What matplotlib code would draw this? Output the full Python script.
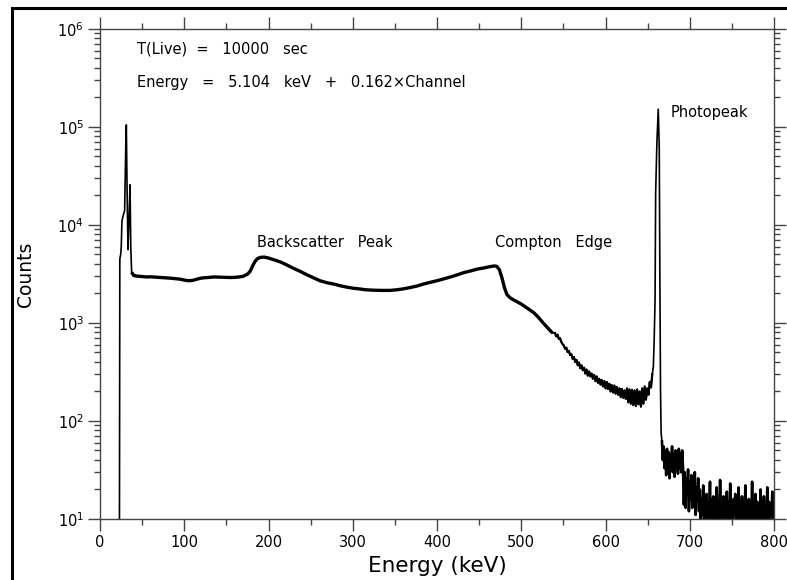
import numpy as np
import matplotlib
matplotlib.use('Agg')
import matplotlib.pyplot as plt
from matplotlib.patches import Rectangle
from matplotlib.ticker import LogLocator, MultipleLocator, NullFormatter

# Low-energy start and Ba X-ray peaks (keV, counts)
xray_energy = [22.9, 23.5, 24.5, 25.2, 26.0, 27.5, 29.2, 30.5, 31.2, 32.2, 33.2, 34.5, 35.6, 36.5]
xray_counts = [1, 4500, 5000, 6000, 11000, 12500, 14000, 60000, 105000, 20000, 5600, 12000, 25700, 6000]

# Smooth continuum: backscatter peak and Compton edge
cont_energy = [37.5, 40, 45, 50, 55, 60, 65, 70, 75, 80, 85, 90, 95, 100, 105, 110, 115, 120,
               125, 130, 135, 140, 145, 150, 155, 160, 165, 170, 175, 178, 181, 184, 187, 191,
               195, 200, 207, 214, 222, 230, 238, 245, 253, 261, 269, 277, 285, 293, 301, 309,
               316, 325, 335, 344, 352, 360, 368, 376, 384, 392, 400, 408, 416, 423, 431, 440,
               448, 456, 463, 468, 471, 474, 477, 480, 483, 487, 492, 500, 507, 515, 520, 526,
               532, 537]
cont_counts = [3300, 3050, 3000, 2980, 2950, 2960, 2940, 2920, 2900, 2880, 2860, 2830, 2800,
               2740, 2700, 2720, 2800, 2870, 2900, 2920, 2950, 2940, 2930, 2920, 2910, 2920,
               2950, 3000, 3150, 3350, 3800, 4250, 4550, 4680, 4700, 4600, 4400, 4200, 3900,
               3600, 3350, 3120, 2900, 2700, 2580, 2500, 2400, 2320, 2260, 2220, 2180, 2160,
               2150, 2150, 2180, 2230, 2300, 2380, 2500, 2600, 2700, 2820, 2950, 3080, 3250,
               3400, 3550, 3650, 3760, 3820, 3780, 3500, 2900, 2300, 1950, 1800, 1700, 1560,
               1420, 1270, 1150, 1000, 880, 790]

# Noisy valley between Compton edge and photopeak, 1.5 keV steps from 540 keV
valley_start, valley_step = 540.0, 1.5
valley_counts = [790, 730, 760, 690, 700, 640, 610, 590, 545, 560, 505, 520, 470, 480, 430,
                 450, 400, 420, 370, 395, 345, 370, 330, 350, 305, 335, 290, 320, 285, 305,
                 270, 295, 255, 285, 245, 270, 235, 262, 225, 255, 215, 250, 212, 240, 200,
                 232, 195, 230, 190, 222, 185, 215, 175, 212, 172, 205, 168, 215, 155, 210,
                 150, 208, 145, 205, 142, 210, 148, 200, 140, 215, 150, 225, 165, 215, 185,
                 250, 220, 300]

# Photopeak (662 keV)
peak_energy = [656.8, 657.8, 658.8, 659.5, 661.0, 662.6, 663.8, 664.5, 665.3, 666.0]
peak_counts = [360, 700, 1700, 21000, 70000, 152000, 60000, 3000, 200, 75]

# High-energy tail, 1 keV steps from 667 keV
tail_start, tail_step = 667.0, 1.0
tail_counts = [62, 40, 55, 33, 50, 28, 52, 35, 48, 26, 45, 38, 55, 30, 46, 27, 50, 36, 44, 29,
               52, 33, 47, 30, 50, 34,
               14, 30, 13, 26, 18, 32, 12, 24, 16, 28, 13, 22, 17, 30, 11, 21, 15, 26, 12, 20,
               9, 16, 11, 22, 9, 15, 10, 18, 9, 14, 11, 24, 8, 16, 10, 17, 9, 14, 8, 21, 10,
               15, 9, 25, 10, 14, 8, 17, 11, 14, 9, 19, 10, 15, 8, 23, 10, 14, 9, 16, 11, 18,
               8, 15, 10, 21, 9, 13, 10, 17, 8, 15, 10, 22, 9, 14, 11, 16, 8, 15, 10, 24, 9,
               13, 10, 18, 8, 15, 11, 14, 9, 20, 10, 15, 8, 17, 10, 13, 9, 21, 10, 15, 8, 14,
               11, 19, 9, 15]

annotations = [
    ('T(Live)  =   10000   sec', 0.055, 0.959),
    ('Energy   =   5.104   keV   +   0.162\u00d7Channel', 0.055, 0.891),
    ('Backscatter   Peak', 0.233, 0.565),
    ('Compton   Edge', 0.586, 0.565),
    ('Photopeak', 0.846, 0.829),
]

valley_energy = valley_start + valley_step * np.arange(len(valley_counts))
tail_energy = tail_start + tail_step * np.arange(len(tail_counts))

energy = np.concatenate([xray_energy, cont_energy, valley_energy, peak_energy, tail_energy])
counts = np.concatenate([xray_counts, cont_counts, valley_counts, peak_counts, tail_counts])

fig = plt.figure(figsize=(7.87, 5.80), dpi=100)
ax = fig.add_axes([0.1271, 0.1052, 0.8564, 0.8448])

ax.plot(energy, counts, color='black', lw=1.2)
# the counting noise makes the continuum and the tail look like thick bands
ax.plot(cont_energy, cont_counts, color='black', lw=2.4, solid_capstyle='butt')
ax.plot(valley_energy, valley_counts, color='black', lw=1.6)
ax.plot(tail_energy, tail_counts, color='black', lw=1.9)

ax.set_yscale('log')
ax.set_xlim(0, 800)
ax.set_ylim(10, 1e6)

ax.xaxis.set_major_locator(MultipleLocator(100))
ax.xaxis.set_minor_locator(MultipleLocator(50))
ax.yaxis.set_major_locator(LogLocator(base=10, numticks=10))
ax.yaxis.set_minor_locator(LogLocator(base=10, subs=np.arange(2, 10), numticks=20))
ax.yaxis.set_minor_formatter(NullFormatter())

spine_col = '#444444'
for s in ax.spines.values():
    s.set_color(spine_col)
    s.set_linewidth(1.0)

ax.tick_params(which='both', direction='out', top=True, right=True, color=spine_col, width=1.0,
               labelsize=10.5)
ax.tick_params(which='major', length=8.5, pad=3)
ax.tick_params(which='minor', length=4.3)

ax.set_xlabel('Energy (keV)', fontsize=15.5, labelpad=4)
ax.set_ylabel('Counts', fontsize=13.5, labelpad=16)

for txt, x, y in annotations:
    ax.text(x, y, txt, transform=ax.transAxes, fontsize=10.5, ha='left', va='center')

# outer frame of the original page
fig.add_artist(Rectangle((0.0152, -0.05), 1.1, 0.986 + 0.05, transform=fig.transFigure,
                         fill=False, lw=2.2, color='black', clip_on=False))

fig.savefig('out.png', dpi=100)
